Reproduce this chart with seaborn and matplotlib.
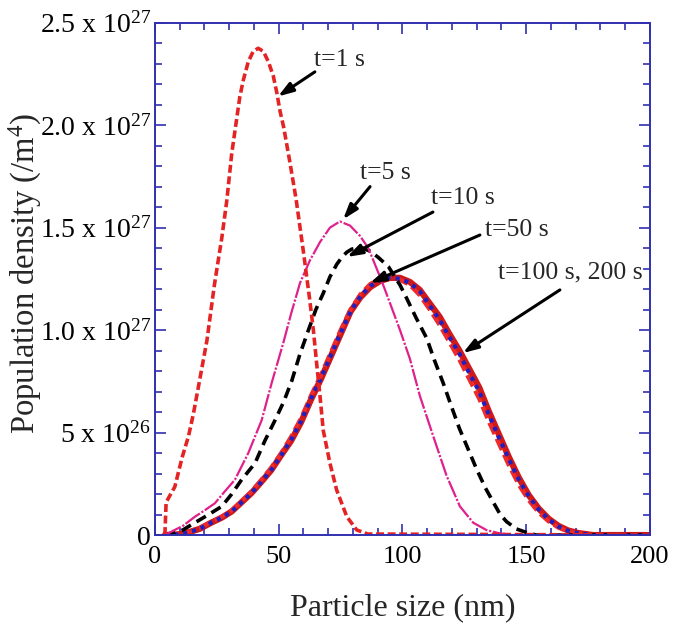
import matplotlib
matplotlib.use("Agg")
import matplotlib.pyplot as plt
from matplotlib.ticker import MultipleLocator
import seaborn as sns

# particle size (nm) and population density (x 1e27 /m^4)
x_1s = [4, 4.5, 8, 11, 13.5, 15.5, 17.5, 21, 24, 27, 29, 31, 33, 34.3, 35.7, 37.7, 39.7,
        41.7, 43.8, 45.8, 47.8, 49.2, 50.5, 52, 54.5, 57, 60, 62.5, 64, 65.3, 66.7, 68,
        70.7, 73.4, 77.5, 81.5, 86, 200]
y_1s = [0, 0.16, 0.235, 0.38, 0.48, 0.59, 0.72, 0.95, 1.22, 1.45, 1.63, 1.86, 2.03, 2.14,
        2.22, 2.31, 2.36, 2.375, 2.36, 2.31, 2.24, 2.16, 2.07, 1.99, 1.82, 1.64, 1.38,
        1.15, 1.0, 0.84, 0.675, 0.51, 0.35, 0.22, 0.09, 0.025, 0.005, 0]

x_5s = [4, 8, 11.3, 16.2, 20, 24.2, 28, 32.3, 37.7, 43.1, 47.1, 51.9, 55, 58.6, 62.6, 66.7,
        70.7, 74.7, 78.8, 82.8, 86.2, 88.9, 91.6, 95, 99, 103, 107, 112.5, 117.8, 123.2,
        128.6, 134, 139.4, 145, 200]
y_5s = [0, 0.025, 0.045, 0.09, 0.12, 0.155, 0.21, 0.27, 0.40, 0.56, 0.74, 0.94, 1.08, 1.23,
        1.34, 1.43, 1.50, 1.53, 1.51, 1.46, 1.40, 1.32, 1.24, 1.13, 1.0, 0.86, 0.68, 0.48,
        0.29, 0.14, 0.06, 0.024, 0.008, 0, 0]

x_10s = [4, 8, 11.3, 14, 18.9, 23, 27, 31, 35, 40.4, 44.4, 48.5, 52, 55.2, 58.5, 62, 65,
         68, 70.7, 73.4, 75.5, 77.5, 79.5, 81.5, 84, 86.9, 90.2, 94.3, 99, 101.7, 105.5,
         109.8, 113, 116.5, 120, 123, 126.5, 130, 133.5, 136.7, 139.5, 142.1, 146, 150.2,
         154, 200]
y_10s = [0, 0.01, 0.025, 0.045, 0.08, 0.11, 0.14, 0.2, 0.27, 0.35, 0.46, 0.56, 0.65, 0.75,
         0.88, 1.0, 1.10, 1.18, 1.26, 1.32, 1.355, 1.38, 1.395, 1.40, 1.40, 1.385, 1.355,
         1.31, 1.22, 1.155, 1.06, 0.96, 0.85, 0.74, 0.62, 0.52, 0.42, 0.32, 0.23, 0.16,
         0.10, 0.065, 0.03, 0.012, 0, 0]

x_50s = [4, 10, 14, 18, 23, 27, 31, 35, 39, 43, 47, 51, 55, 59, 63, 67, 71, 75, 79, 83, 87,
         91, 95, 99, 103, 107, 111, 115, 119, 123, 127, 131, 135, 139, 143, 147, 151, 155,
         159, 163, 167, 171, 177, 200]
y_50s = [0, 0.004, 0.015, 0.03, 0.062, 0.085, 0.115, 0.16, 0.205, 0.26, 0.318, 0.39, 0.465,
         0.555, 0.665, 0.765, 0.875, 0.985, 1.09, 1.165, 1.215, 1.245, 1.255, 1.25, 1.23,
         1.19, 1.12, 1.05, 0.965, 0.885, 0.79, 0.70, 0.585, 0.475, 0.37, 0.27, 0.19,
         0.125, 0.077, 0.042, 0.02, 0.009, 0, 0]

x_100s = [4, 10, 14, 18, 23, 27, 31, 35, 39, 43, 47, 51, 55, 59, 63, 67, 71, 75, 79, 83, 87,
          91, 95, 99, 103, 107, 111, 115, 119, 123, 127, 131, 135, 139, 143, 147, 151, 155,
          159, 163, 167, 171, 177, 200]
y_100s = [0, 0.005, 0.017, 0.033, 0.066, 0.09, 0.12, 0.167, 0.213, 0.27, 0.33, 0.40, 0.48,
          0.57, 0.68, 0.78, 0.89, 1.0, 1.10, 1.175, 1.225, 1.25, 1.255, 1.245, 1.22, 1.17,
          1.10, 1.025, 0.94, 0.855, 0.76, 0.665, 0.55, 0.445, 0.34, 0.245, 0.17, 0.11,
          0.067, 0.036, 0.017, 0.007, 0, 0]

x_200s = [4, 10, 14, 18, 23, 27, 31, 35, 39, 43, 47, 51, 55, 59, 63, 67, 71, 75, 79, 83, 87,
          91, 95, 99, 103, 107, 111, 115, 119, 123, 127, 131, 135, 139, 143, 147, 151, 155,
          159, 163, 167, 171, 177, 200]
y_200s = [0, 0.004, 0.015, 0.03, 0.062, 0.085, 0.115, 0.16, 0.205, 0.26, 0.317, 0.39, 0.46,
          0.55, 0.66, 0.76, 0.87, 0.98, 1.09, 1.16, 1.21, 1.24, 1.255, 1.255, 1.235, 1.196,
          1.13, 1.065, 0.98, 0.90, 0.81, 0.72, 0.60, 0.49, 0.38, 0.28, 0.195, 0.13, 0.08,
          0.045, 0.022, 0.01, 0, 0]

ytick_vals = [0, 0.5, 1.0, 1.5, 2.0, 2.5]
ytick_labels = ["0", r"5 x 10$^{26}$", r"1.0 x 10$^{27}$", r"1.5 x 10$^{27}$",
                r"2.0 x 10$^{27}$", r"2.5 x 10$^{27}$"]
xtick_vals = [0, 50, 100, 150, 200]

# label text, text centre, arrow start, arrow tip
notes = [
    ("t=1 s", (74.7, 2.318), (64.6, 2.26), (49.7, 2.14)),
    ("t=5 s", (92.9, 1.767), (86.9, 1.70), (76.0, 1.54)),
    ("t=10 s", (124.4, 1.645), (112.3, 1.576), (77.6, 1.357)),
    ("t=50 s", (146.3, 1.489), (131.3, 1.464), (86.9, 1.23)),
    ("t=100 s, 200 s", (167.7, 1.279), (163.6, 1.196), (124.4, 0.888)),
]

sns.set_style("ticks")
plt.rcParams["font.family"] = ["Liberation Serif", "DejaVu Serif"]
plt.rcParams["mathtext.fontset"] = "custom"
plt.rcParams["mathtext.rm"] = "Liberation Serif"
plt.rcParams["mathtext.it"] = "Liberation Serif:italic"

fig = plt.figure(figsize=(6.9, 6.28), dpi=100)
ax = fig.add_axes([0.2246, 0.148, 0.7174, 0.8159])

red = "#e42424"
sns.lineplot(x=x_200s, y=y_200s, ax=ax, color="#d01a1a", lw=4.5, errorbar=None)
sns.lineplot(x=x_100s, y=y_100s, ax=ax, color="#ee2a2a", lw=3,
             linestyle=(0, (3, 1.2)), errorbar=None)
sns.lineplot(x=x_50s, y=y_50s, ax=ax, color="#2020c0", lw=3,
             linestyle=(0, (1, 1.2)), errorbar=None)
sns.lineplot(x=x_10s, y=y_10s, ax=ax, color="black", lw=2.6,
             linestyle=(0, (3, 1.8)), errorbar=None)
sns.lineplot(x=x_5s, y=y_5s, ax=ax, color="#e0208c", lw=1.6,
             linestyle=(0, (8, 0.8, 1, 0.8)), errorbar=None)
sns.lineplot(x=x_1s, y=y_1s, ax=ax, color=red, lw=2.6,
             linestyle=(0, (2.2, 1)), errorbar=None)

for label, txt, start, tip in notes:
    ax.annotate("", xy=tip, xytext=start,
                arrowprops=dict(arrowstyle="-|>,head_length=0.9,head_width=0.3",
                                color="black", lw=2.2, shrinkA=0, shrinkB=0))
    ax.text(txt[0], txt[1], label, ha="center", va="center", fontsize=18.5)

ax.set_xlim(0, 200)
ax.set_ylim(0, 2.5)
ax.set_xticks(xtick_vals)
ax.set_yticks(ytick_vals)
ax.set_yticklabels(ytick_labels)
ax.xaxis.set_minor_locator(MultipleLocator(10))
ax.yaxis.set_minor_locator(MultipleLocator(0.1))

spine_col = "#3030b0"
for s in ax.spines.values():
    s.set_color(spine_col)
    s.set_linewidth(1.4)
ax.tick_params(which="both", direction="in", top=True, right=True, color=spine_col,
               width=1.2, labelcolor="black")
ax.tick_params(which="major", length=8)
ax.tick_params(which="minor", length=5)
ax.tick_params(axis="x", labelsize=19, pad=8)
ax.tick_params(axis="y", labelsize=20, pad=3)

ax.set_xlabel("Particle size (nm)", fontsize=23, labelpad=18)
ax.set_ylabel("Population density (/m$^{4}$)", fontsize=23.5)
ax.yaxis.set_label_coords(-0.225, 0.51)

fig.savefig("out.png", dpi=100)
